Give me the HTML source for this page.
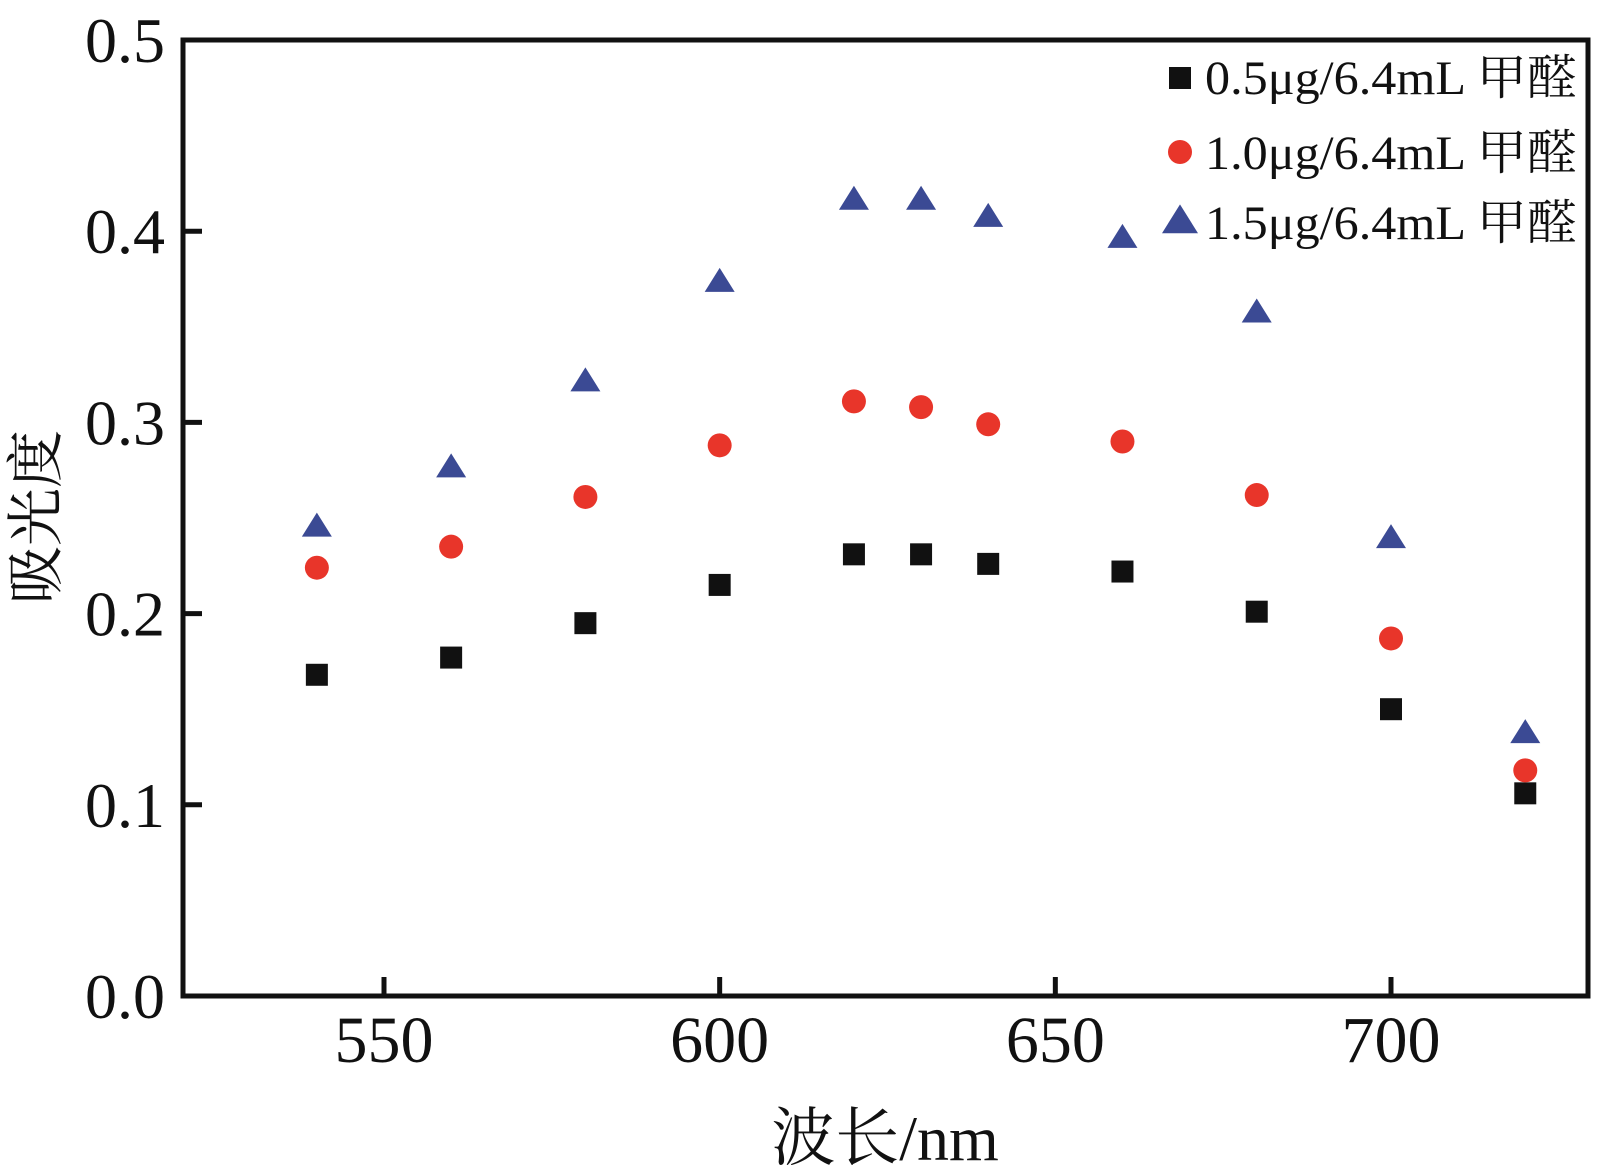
<!DOCTYPE html>
<html><head><meta charset="utf-8"><style>
html,body{margin:0;padding:0;background:#fff;}
svg{display:block;}
text{font-family:"Liberation Serif","Noto Serif CJK SC",serif;fill:#111;}
</style></head><body>
<svg id="chart" width="1617" height="1165" viewBox="0 0 1617 1165" xmlns="http://www.w3.org/2000/svg">
<g id="axes"></g>
<g id="marks"></g>
<g id="legend"></g>
</svg>
<script>
const wavelengths = [540,560,580,600,620,630,640,660,680,700,720];
const s05 = [0.168,0.177,0.195,0.215,0.231,0.231,0.226,0.222,0.201,0.150,0.106];
const s10 = [0.224,0.235,0.261,0.288,0.311,0.308,0.299,0.290,0.262,0.187,0.118];
const s15 = [0.246,0.277,0.322,0.374,0.417,0.417,0.408,0.397,0.358,0.240,0.138];
const xTicks = [550,600,650,700];
const yTicks = [0.0,0.1,0.2,0.3,0.4,0.5];
const yTickLabels = ["0.0","0.1","0.2","0.3","0.4","0.5"];
const legendLabels = ["0.5μg/6.4mL 甲醛","1.0μg/6.4mL 甲醛","1.5μg/6.4mL 甲醛"];

const NS="http://www.w3.org/2000/svg";
const L=183,R=1588,T=40,B=996;
function xs(v){return 384+(v-550)*(1391-384)/150;}
function ys(v){return B-(v/0.5)*(B-T);}
function mk(tag,attrs,parent){const e=document.createElementNS(NS,tag);for(const k in attrs)e.setAttribute(k,attrs[k]);parent.appendChild(e);return e;}
const axes=document.getElementById('axes'),marks=document.getElementById('marks'),legend=document.getElementById('legend');

let fr=mk('rect',{x:L,y:T,width:R-L,height:B-T,fill:'none',stroke:'#111','stroke-width':5},axes);



xTicks.forEach(v=>{
  let t=mk('line',{x1:xs(v),x2:xs(v),y1:B,y2:B-19,stroke:'#111','stroke-width':5},axes);
  
  
  let lb=mk('text',{x:xs(v),y:B+66,'font-size':66,'text-anchor':'middle'},axes);
  lb.textContent=v;
  
  
});
yTicks.forEach((v,i)=>{
  let t=mk('line',{x1:L,x2:L+19,y1:ys(v),y2:ys(v),stroke:'#111','stroke-width':5},axes);
  
  
  let lb=mk('text',{x:165,y:ys(v)+22,'font-size':64,'text-anchor':'end'},axes);
  lb.textContent=yTickLabels[i];
  
  
});
let xt=mk('text',{x:885,y:1160,'font-size':64,'text-anchor':'middle'},axes);
xt.textContent='波长/nm';


let yt=mk('text',{x:0,y:0,'font-size':58,'text-anchor':'middle',transform:'translate(56,517) rotate(-90)'},axes);
yt.textContent='吸光度';



function square(x,y,p,n){let e=mk('rect',{x:x-11,y:y-11,width:22,height:22,fill:'#111'},p);}
function circle(x,y,p,n){let e=mk('circle',{cx:x,cy:y,r:12,fill:'#e8352a'},p);}
function tri(x,y,p,n,s){s=s||1;let e=mk('polygon',{points:`${x},${y-13*s} ${x-15*s},${y+11*s} ${x+15*s},${y+11*s}`,fill:'#3b4a94'},p);}

wavelengths.forEach((w,i)=>{
  square(xs(w),ys(s05[i]),marks,'point-0.5ug');
  circle(xs(w),ys(s10[i]),marks,'point-1.0ug');
  tri(xs(w),ys(s15[i]),marks,'point-1.5ug');
});

const ly=[73,148,218];
square(1180,ly[0]+5,legend,'legend-marker-0.5ug');
circle(1180,ly[1]+4,legend,'legend-marker-1.0ug');
tri(1180,ly[2]+2,legend,'legend-marker-1.5ug',1.2);
legendLabels.forEach((s,i)=>{
  let t=mk('text',{x:1205,y:ly[i]+21,'font-size':48,textLength:372,lengthAdjust:'spacingAndGlyphs'},legend);
  t.textContent=s;
  
  
});
</script>
</body></html>
